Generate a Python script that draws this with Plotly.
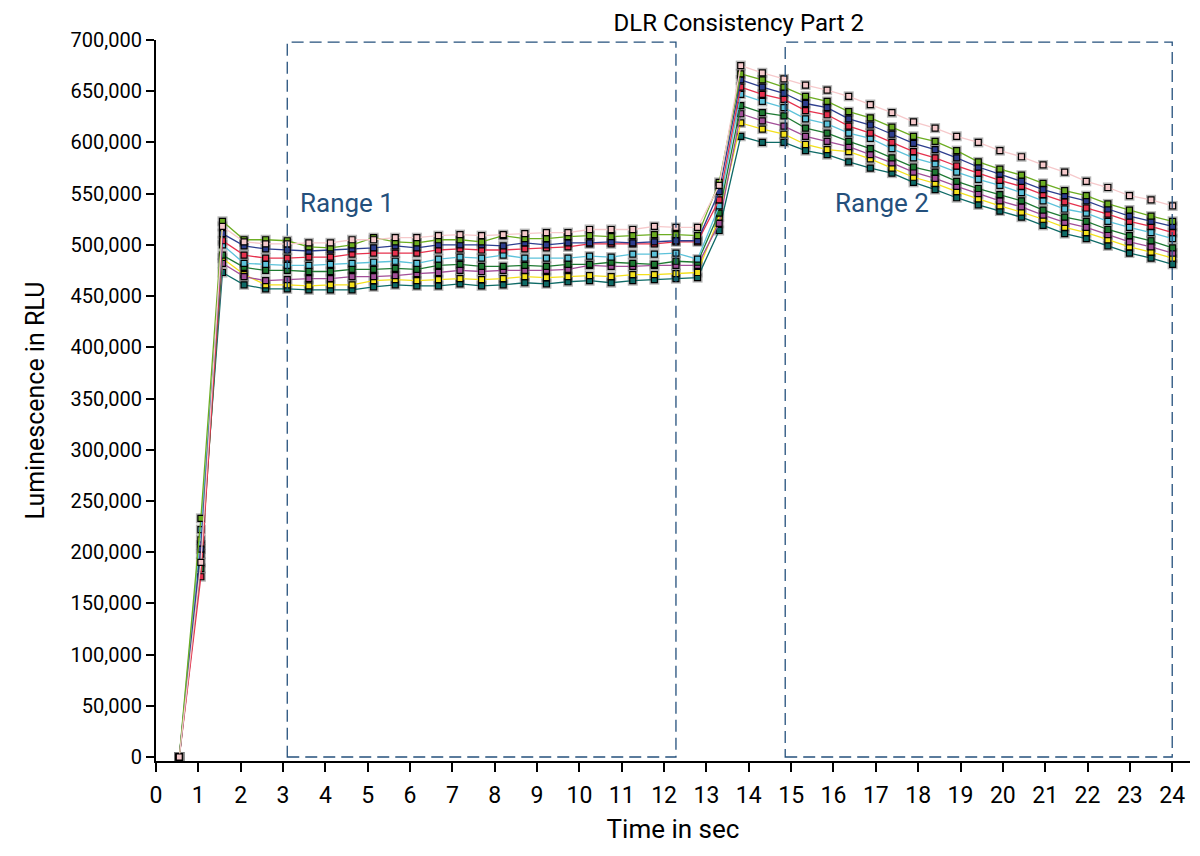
import plotly.graph_objects as go

# time of each reading (s)
times = [0.55, 1.06, 1.57, 2.08, 2.59, 3.10, 3.61, 4.12, 4.63, 5.14, 5.65, 6.16,
         6.67, 7.18, 7.69, 8.20, 8.71, 9.22, 9.73, 10.24, 10.75, 11.26, 11.77, 12.28,
         12.79, 13.30, 13.81, 14.32, 14.83, 15.34, 15.85, 16.36, 16.87, 17.38, 17.89,
         18.40, 18.91, 19.42, 19.93, 20.44, 20.95, 21.46, 21.97, 22.48, 22.99, 23.50, 24.01]

# luminescence readings in thousands of RLU, one list per well
pink = [0, 190, 518, 503, 501, 501, 502, 502, 505, 505, 507, 507, 509, 510, 509, 510,
        511, 512, 512, 515, 515, 515, 518, 517, 517, 558, 675, 668, 662, 656, 651, 645,
        637, 629, 620, 614, 606, 600, 592, 586, 578, 571, 562, 556, 548, 544, 538]
green = [0, 233, 523, 505, 505, 504, 498, 497, 500, 507, 503, 502, 505, 505, 503, 509,
         506, 506, 508, 509, 508, 509, 510, 510, 509, 561, 667, 661, 654, 645, 640, 630,
         624, 615, 606, 601, 592, 581, 574, 568, 560, 553, 548, 540, 534, 528, 523]
blue = [0, 203, 511, 499, 496, 495, 494, 495, 496, 497, 499, 497, 500, 500, 500, 499,
        502, 500, 502, 502, 503, 502, 503, 504, 504, 552, 661, 654, 648, 638, 634, 623,
        617, 608, 599, 593, 585, 576, 569, 562, 554, 548, 543, 535, 528, 523, 518]
red = [0, 176, 504, 490, 487, 487, 488, 488, 491, 492, 492, 492, 495, 496, 495, 495,
       496, 497, 498, 501, 501, 501, 501, 503, 503, 544, 654, 647, 642, 631, 627, 616,
       609, 600, 591, 585, 577, 570, 563, 557, 549, 542, 536, 530, 523, 518, 512]
cyan = [0, 222, 500, 482, 481, 480, 480, 481, 482, 483, 484, 482, 486, 488, 487, 490,
        487, 487, 487, 489, 488, 491, 491, 492, 486, 538, 647, 640, 634, 623, 618, 609,
        604, 594, 585, 579, 571, 564, 558, 551, 543, 535, 531, 523, 517, 512, 506]
dkgreen = [0, 184, 490, 478, 475, 475, 474, 474, 476, 476, 477, 476, 480, 481, 479, 479,
           480, 479, 481, 481, 483, 482, 481, 484, 483, 531, 636, 629, 626, 614, 609, 601,
           594, 585, 576, 571, 562, 555, 549, 543, 534, 527, 523, 515, 509, 504, 497]
purple = [0, 207, 482, 469, 465, 466, 467, 467, 469, 469, 470, 472, 473, 475, 474, 475,
          475, 475, 476, 480, 479, 479, 480, 480, 480, 521, 628, 621, 616, 606, 601, 596,
          588, 580, 571, 565, 557, 550, 543, 537, 529, 522, 517, 510, 503, 498, 492]
yellow = [0, 212, 487, 471, 461, 461, 460, 461, 461, 465, 466, 465, 466, 467, 466, 467,
          469, 468, 469, 470, 469, 471, 471, 472, 473, 527, 619, 613, 608, 598, 593, 591,
          584, 575, 566, 560, 552, 545, 538, 532, 525, 517, 512, 505, 498, 493, 487]
teal = [0, 198, 473, 461, 457, 457, 456, 456, 456, 459, 461, 460, 460, 462, 460, 461,
        463, 462, 464, 465, 463, 465, 466, 467, 468, 514, 606, 600, 600, 592, 588, 581,
        575, 570, 561, 554, 546, 539, 533, 527, 519, 511, 506, 499, 492, 487, 481]

# drawn bottom to top
series = [
    (teal, "#0e6a66"),
    (yellow, "#f3e01c"),
    (purple, "#a24f98"),
    (dkgreen, "#1f7a33"),
    (cyan, "#5cc2da"),
    (red, "#e6324e"),
    (blue, "#2d3e8e"),
    (green, "#6cad22"),
    (pink, "#f6c9cb"),
]

range_1 = [3.1, 12.28]
range_2 = [14.86, 24.0]
range_top = 698

FONT = "Roboto"
BOX = "#24507c"

fig = go.Figure()

# grey halo behind each marker
for vals, col in series:
    fig.add_trace(go.Scatter(
        x=times, y=[v * 1000 for v in vals], mode="markers",
        marker=dict(symbol="square", size=10, color="rgba(120,120,120,0.55)",
                    line=dict(width=0)),
        hoverinfo="skip", showlegend=False))

for vals, col in series:
    fig.add_trace(go.Scatter(
        x=times, y=[v * 1000 for v in vals], mode="lines+markers",
        line=dict(color=col, width=1.3),
        marker=dict(symbol="square", size=6, color=col,
                    line=dict(color="black", width=1.2)),
        showlegend=False))

for r in (range_1, range_2):
    fig.add_shape(type="rect", xref="x", yref="y",
                  x0=r[0], x1=r[1], y0=0, y1=range_top * 1000,
                  line=dict(color=BOX, width=1.3, dash="12px,6px"))

fig.add_annotation(x=3.35, y=541000, text="Range 1", showarrow=False,
                   xanchor="left", font=dict(family=FONT, size=26, color=BOX))
fig.add_annotation(x=16.0, y=541000, text="Range 2", showarrow=False,
                   xanchor="left", font=dict(family=FONT, size=26, color=BOX))

# y axis title placed by hand, further left than plotly puts it
fig.add_annotation(xref="paper", yref="paper", x=-0.117, y=0.5,
                   text="Luminescence in RLU", textangle=-90, showarrow=False,
                   xanchor="center", yanchor="middle",
                   font=dict(family=FONT, size=25, color="black"))

# the page is drawn with an 8px body margin, so offsets are reduced by 8
fig.update_layout(
    width=1200, height=856,
    margin=dict(l=148, r=18, t=32, b=103),
    plot_bgcolor="white", paper_bgcolor="white",
    font=dict(family=FONT, size=20, color="black"),
    title=dict(text="DLR Consistency Part 2", x=0.609, xref="container",
               xanchor="center", y=0.993, yanchor="top",
               font=dict(family=FONT, size=24, color="black")),
)
fig.update_xaxes(
    range=[0, 24.42], dtick=1, tick0=0, showgrid=False, zeroline=False,
    showline=True, linecolor="black", linewidth=2,
    ticks="outside", ticklen=9, tickwidth=2, tickcolor="black",
    tickfont=dict(size=23), ticklabelstandoff=3,
    title=dict(text="Time in sec", font=dict(size=26), standoff=12),
)
fig.update_yaxes(
    range=[-3900, 700000], dtick=50000, tickformat=",d", showgrid=False,
    zeroline=False, showline=True, linecolor="black", linewidth=2,
    ticks="outside", ticklen=8, tickwidth=2, tickcolor="black",
    tickfont=dict(size=20),
)

fig.write_html("out.html")
